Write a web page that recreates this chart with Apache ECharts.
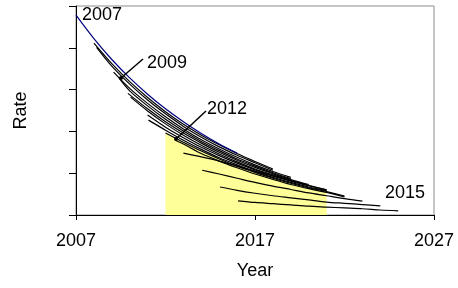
<!DOCTYPE html>
<html>
<head>
<meta charset="utf-8">
<script src="https://cdn.jsdelivr.net/npm/echarts@6/dist/echarts.min.js"></script>
<style>
  html, body { margin: 0; padding: 0; background: #fff; }
  #chart { width: 458px; height: 288px; }
</style>
</head>
<body>
<div id="chart"></div>
<script>
// x axis range / ticks
const yearMin = 2007;
const yearMax = 2027;
const yearStep = 10;

// forecast curves, [year, rate]
const fc2007 = [[2007, 4.78], [2008, 4.22], [2009, 3.72], [2010, 3.28], [2011, 2.89], [2012, 2.54], [2013, 2.23], [2014, 1.95], [2015, 1.70], [2016, 1.48]];
const fc2008a = [[2008, 4.11], [2009, 3.62], [2010, 3.19], [2011, 2.81], [2012, 2.47], [2013, 2.17], [2014, 1.91], [2015, 1.68], [2016, 1.47], [2017, 1.28], [2018, 1.10]];
const fc2008b = [[2008.15, 4.01], [2009, 3.56], [2010, 3.13], [2011, 2.75], [2012, 2.42], [2013, 2.12], [2014, 1.86], [2015, 1.63], [2016, 1.43], [2017, 1.25], [2018, 1.07]];
const fc2009a = [[2009.1, 3.42], [2010, 3.03], [2011, 2.67], [2012, 2.35], [2013, 2.06], [2014, 1.80], [2015, 1.58], [2016, 1.38], [2017, 1.20], [2018, 1.04], [2019, 0.90]];
const fc2009b = [[2009.4, 3.28], [2010, 2.97], [2011, 2.61], [2012, 2.29], [2013, 2.01], [2014, 1.76], [2015, 1.54], [2016, 1.34], [2017, 1.17], [2018, 1.01], [2019, 0.87]];
const fc2010a = [[2009.9, 2.91], [2011, 2.54], [2012, 2.23], [2013, 1.96], [2014, 1.72], [2015, 1.50], [2016, 1.31], [2017, 1.14], [2018, 0.99], [2019, 0.85], [2020, 0.73]];
const fc2010b = [[2010.05, 2.82], [2011, 2.49], [2012, 2.18], [2013, 1.91], [2014, 1.67], [2015, 1.46], [2016, 1.27], [2017, 1.10], [2018, 0.96], [2019, 0.83], [2020, 0.71]];
const fc2011a = [[2011, 2.39], [2012, 2.10], [2013, 1.85], [2014, 1.62], [2015, 1.42], [2016, 1.24], [2017, 1.08], [2018, 0.94], [2019, 0.81], [2020, 0.70], [2021, 0.60]];
const fc2011b = [[2011.05, 2.27], [2012, 2.03], [2013, 1.79], [2014, 1.57], [2015, 1.37], [2016, 1.20], [2017, 1.04], [2018, 0.90], [2019, 0.78], [2020, 0.67], [2021, 0.58]];
const fc2012a = [[2012, 1.96], [2013, 1.74], [2014, 1.53], [2015, 1.34], [2016, 1.17], [2017, 1.02], [2018, 0.88], [2019, 0.76], [2020, 0.65], [2021, 0.56], [2022, 0.45]];
const fc2012b = [[2012.55, 1.79], [2013, 1.70], [2014, 1.47], [2015, 1.29], [2016, 1.13], [2017, 0.98], [2018, 0.85], [2019, 0.73], [2020, 0.63], [2021, 0.54], [2022, 0.43]];
const fc2013 = [[2013, 1.48], [2014, 1.39], [2015, 1.29], [2016, 1.17], [2017, 1.05], [2018, 0.93], [2019, 0.82], [2020, 0.71], [2021, 0.60]];
const fc2014 = [[2014.05, 1.07], [2015, 0.98], [2016, 0.88], [2017, 0.78], [2018, 0.69], [2019, 0.61], [2020, 0.53], [2021, 0.46], [2022, 0.39], [2023, 0.33]];
const fc2015 = [[2015.05, 0.67], [2016, 0.59], [2017, 0.52], [2018, 0.46], [2019, 0.41], [2020, 0.36], [2021, 0.31], [2022, 0.28], [2023, 0.25], [2024, 0.22]];
const fc2016 = [[2016.05, 0.34], [2017, 0.30], [2018, 0.27], [2019, 0.24], [2020, 0.21], [2021, 0.19], [2022, 0.17], [2023, 0.15], [2024, 0.12], [2025, 0.10]];

// shaded window (years)
const shadeFrom = 2012;
const shadeTo = 2021;

const blackCurves = [fc2008a, fc2008b, fc2009a, fc2009b, fc2010a, fc2010b, fc2011a, fc2011b,
  fc2012a, fc2012b, fc2013, fc2014, fc2015, fc2016];

const FONT = '"Liberation Sans", Arial, sans-serif';

function curveSeries(data, color) {
  return {
    type: 'line',
    data: data,
    smooth: 0.3,
    showSymbol: false,
    silent: true,
    z: 3,
    lineStyle: { color: color, width: 1.2 }
  };
}

const series = [];
// yellow area under the 2012 curve
series.push({
  type: 'line',
  data: fc2012a.filter(p => p[0] >= shadeFrom && p[0] <= shadeTo),
  smooth: 0.3,
  showSymbol: false,
  silent: true,
  z: 1,
  lineStyle: { width: 0 },
  areaStyle: { color: '#ffff99', opacity: 1 }
});
blackCurves.forEach(c => series.push(curveSeries(c, '#000000')));
series.push(curveSeries(fc2007, '#000080'));

const chart = echarts.init(document.getElementById('chart'));
chart.setOption({
  animation: false,
  grid: {
    left: 76, right: 24, top: 6, bottom: 73,
    show: true, borderColor: '#8c8c8c', borderWidth: 1
  },
  xAxis: {
    type: 'value',
    min: yearMin, max: yearMax, interval: yearStep,
    name: 'Year', nameLocation: 'middle', nameGap: 47,
    nameTextStyle: { fontFamily: FONT, fontSize: 18, color: '#000' },
    axisLine: { lineStyle: { color: '#000', width: 1 } },
    axisTick: { length: 5, lineStyle: { color: '#000' } },
    axisLabel: { fontFamily: FONT, fontSize: 18, color: '#000', margin: 17, formatter: v => String(v) },
    splitLine: { show: false }
  },
  yAxis: {
    type: 'value',
    min: 0, max: 5, interval: 1,
    name: 'Rate', nameLocation: 'middle', nameGap: 46,
    nameTextStyle: { fontFamily: FONT, fontSize: 18, color: '#000' },
    axisLine: { show: true, lineStyle: { color: '#000', width: 1 } },
    axisTick: { show: true, length: 7, lineStyle: { color: '#000' } },
    axisLabel: { show: false },
    splitLine: { show: false }
  },
  graphic: [
    { type: 'text', left: 82, top: 6, z: 10, style: { text: '2007', font: '18px ' + FONT, fill: '#000' } },
    { type: 'text', left: 147, top: 54, z: 10, style: { text: '2009', font: '18px ' + FONT, fill: '#000' } },
    { type: 'text', left: 207, top: 100, z: 10, style: { text: '2012', font: '18px ' + FONT, fill: '#000' } },
    { type: 'text', left: 385, top: 184, z: 10, style: { text: '2015', font: '18px ' + FONT, fill: '#000' } },
    { type: 'line', z: 10, shape: { x1: 143, y1: 59, x2: 121, y2: 78 }, style: { stroke: '#000', lineWidth: 1.5 } },
    { type: 'circle', z: 10, shape: { cx: 121, cy: 78, r: 2 }, style: { fill: '#000' } },
    { type: 'line', z: 10, shape: { x1: 206, y1: 111, x2: 176, y2: 139 }, style: { stroke: '#000', lineWidth: 1.5 } },
    { type: 'circle', z: 10, shape: { cx: 176, cy: 139, r: 2 }, style: { fill: '#000' } }
  ],
  series: series
});
</script>
</body>
</html>
